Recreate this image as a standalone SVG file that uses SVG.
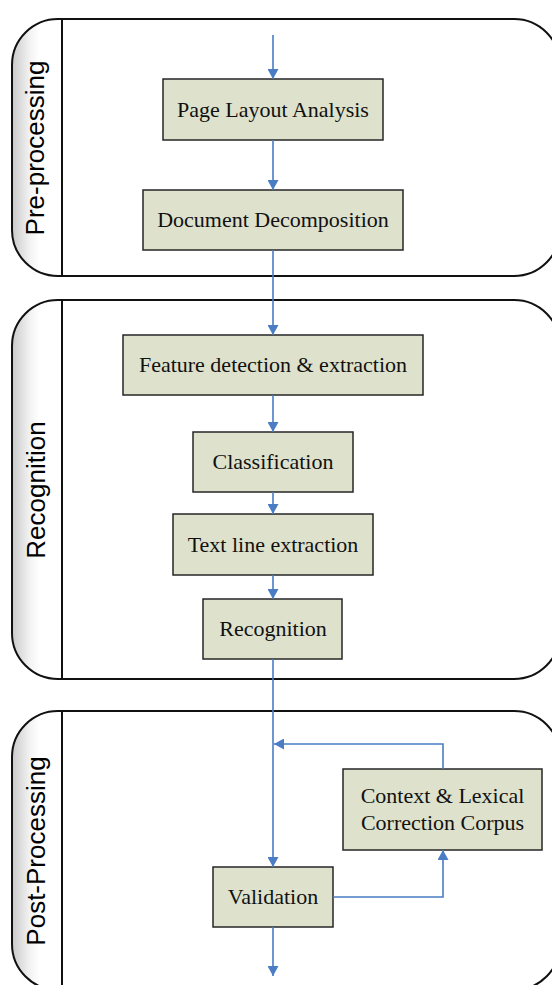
<svg xmlns="http://www.w3.org/2000/svg" width="552" height="985" viewBox="0 0 552 985">
  <style>
    .lane { fill: none; stroke: #111; stroke-width: 2; }
    .band { fill: url(#bandShade); }
    .divider { stroke: #111; stroke-width: 2; }
    .laneLabel { font-family: "Liberation Sans", Arial, sans-serif; font-size: 26px; fill: #000; text-anchor: middle; }
    .box { fill: #dee1cc; stroke: #262626; stroke-width: 1.5; }
    .boxText { font-family: "Liberation Serif", "Times New Roman", serif; font-size: 22px; fill: #111; text-anchor: middle; }
    .flow { fill: none; stroke: #4a7dc4; stroke-width: 1.6; }
  </style>
  <defs>
    <linearGradient id="bandShade" x1="12" y1="0" x2="62" y2="0" gradientUnits="userSpaceOnUse">
      <stop offset="0" stop-color="#c9c9c9"/>
      <stop offset="0.35" stop-color="#f2f2f2"/>
      <stop offset="0.55" stop-color="#ffffff"/>
      <stop offset="1" stop-color="#ffffff"/>
    </linearGradient>
    <marker id="arrow" markerUnits="userSpaceOnUse" markerWidth="11" markerHeight="11" refX="10" refY="5.5" orient="auto">
      <path d="M0,0 L10,5.5 L0,11 Z" fill="#4a7dc4"/>
    </marker>
  </defs>

  <!-- Swimlane: Pre-processing -->
  <g id="lane-preprocessing">
    <path class="band" d="M62,19 H58 A46,46 0 0 0 12,65 V230 A46,46 0 0 0 58,276 H62 Z"/>
    <rect class="lane" x="12" y="19" width="548" height="257" rx="46" ry="46"/>
    <line class="divider" x1="62" y1="19" x2="62" y2="276"/>
    <text class="laneLabel" transform="translate(44,148) rotate(-90)">Pre-processing</text>
  </g>

  <!-- Swimlane: Recognition -->
  <g id="lane-recognition">
    <path class="band" d="M62,300 H58 A46,46 0 0 0 12,346 V633 A46,46 0 0 0 58,679 H62 Z"/>
    <rect class="lane" x="12" y="300" width="548" height="379" rx="46" ry="46"/>
    <line class="divider" x1="62" y1="300" x2="62" y2="679"/>
    <text class="laneLabel" transform="translate(45,490) rotate(-90)">Recognition</text>
  </g>

  <!-- Swimlane: Post-Processing -->
  <g id="lane-postprocessing">
    <path class="band" d="M62,711 H58 A46,46 0 0 0 12,757 V944 A46,46 0 0 0 58,990 H62 Z"/>
    <rect class="lane" x="12" y="711" width="548" height="279" rx="46" ry="46"/>
    <line class="divider" x1="62" y1="711" x2="62" y2="990"/>
    <text class="laneLabel" transform="translate(45,851) rotate(-90)">Post-Processing</text>
  </g>

  <!-- Process steps -->
  <g id="page-layout-analysis">
    <rect class="box" x="163" y="79" width="220" height="61"/>
    <text class="boxText" x="273" y="117">Page Layout Analysis</text>
  </g>
  <g id="document-decomposition">
    <rect class="box" x="143" y="190" width="260" height="60"/>
    <text class="boxText" x="273" y="227">Document Decomposition</text>
  </g>
  <g id="feature-detection">
    <rect class="box" x="123" y="335" width="300" height="60"/>
    <text class="boxText" x="273" y="372">Feature detection &amp; extraction</text>
  </g>
  <g id="classification">
    <rect class="box" x="193" y="432" width="160" height="60"/>
    <text class="boxText" x="273" y="469">Classification</text>
  </g>
  <g id="text-line-extraction">
    <rect class="box" x="173" y="514" width="200" height="61"/>
    <text class="boxText" x="273" y="552">Text line extraction</text>
  </g>
  <g id="recognition">
    <rect class="box" x="203" y="599" width="139" height="60"/>
    <text class="boxText" x="273" y="636">Recognition</text>
  </g>
  <g id="validation">
    <rect class="box" x="213" y="867" width="120" height="60"/>
    <text class="boxText" x="273" y="904">Validation</text>
  </g>
  <g id="correction-corpus">
    <rect class="box" x="343" y="769" width="199" height="81"/>
    <text class="boxText" x="442.5" y="803">Context &amp; Lexical</text>
    <text class="boxText" x="442.5" y="830">Correction Corpus</text>
  </g>

  <!-- Connectors -->
  <g id="connectors">
    <path class="flow" d="M273,35 V79" marker-end="url(#arrow)"/>
    <path class="flow" d="M273,140 V190" marker-end="url(#arrow)"/>
    <path class="flow" d="M273,250 V335" marker-end="url(#arrow)"/>
    <path class="flow" d="M273,395 V432" marker-end="url(#arrow)"/>
    <path class="flow" d="M273,492 V514" marker-end="url(#arrow)"/>
    <path class="flow" d="M273,575 V599" marker-end="url(#arrow)"/>
    <path class="flow" d="M273,659 V867" marker-end="url(#arrow)"/>
    <path class="flow" d="M273,927 V976" marker-end="url(#arrow)"/>
    <path class="flow" d="M443,769 V744 H274" marker-end="url(#arrow)"/>
    <path class="flow" d="M333,897 H443 V850" marker-end="url(#arrow)"/>
  </g>
</svg>
